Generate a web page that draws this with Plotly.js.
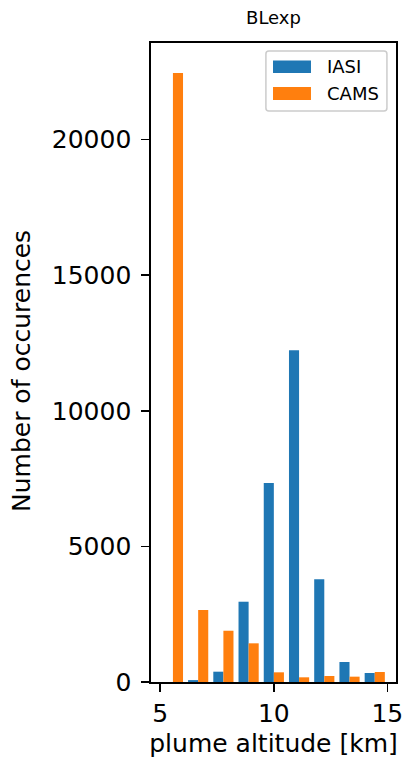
<!DOCTYPE html>
<html>
<head>
<meta charset="utf-8">
<script src="https://cdn.plot.ly/plotly-3.0.1.min.js"></script>
<style>html,body{margin:0;padding:0;background:#fff;}#chart{width:407px;height:762px;}</style>
</head>
<body>
<div id="chart"></div>
<script>
// Bin centres (km) of the 9 histogram bins spanning 5-15 km
var binCenters = [5.556, 6.667, 7.778, 8.889, 10.0, 11.111, 12.222, 13.333, 14.444];
var iasiCounts = [0, 70, 380, 2960, 7335, 12235, 3785, 737, 332];
var camsCounts = [22450, 2655, 1890, 1426, 357, 173, 221, 197, 368];
var seriesNames = ["IASI", "CAMS"];
var seriesColors = ["#1f77b4", "#ff7f0e"];
var yTicks = [0, 5000, 10000, 15000, 20000];
var xTicks = [5, 10, 15];

var F = "DejaVu Sans, sans-serif";

var traces = [
  {type: "bar", x: binCenters, y: iasiCounts, name: seriesNames[0],
   marker: {color: seriesColors[0], line: {width: 0}}, showlegend: false},
  {type: "bar", x: binCenters, y: camsCounts, name: seriesNames[1],
   marker: {color: seriesColors[1], line: {width: 0}}, showlegend: false}
];

// custom matplotlib-style legend (paper coordinates)
function rr(x0, y0, x1, y1, rx, ry) {
  return "M" + (x0 + rx) + "," + y1 + " L" + (x1 - rx) + "," + y1 +
    " Q" + x1 + "," + y1 + " " + x1 + "," + (y1 - ry) +
    " L" + x1 + "," + (y0 + ry) + " Q" + x1 + "," + y0 + " " + (x1 - rx) + "," + y0 +
    " L" + (x0 + rx) + "," + y0 + " Q" + x0 + "," + y0 + " " + x0 + "," + (y0 + ry) +
    " L" + x0 + "," + (y1 - ry) + " Q" + x0 + "," + y1 + " " + (x0 + rx) + "," + y1 + " Z";
}

var shapes = [
  {type: "path", xref: "paper", yref: "paper", path: rr(0.469, 0.8936, 0.963, 0.9875, 0.012, 0.0047),
   line: {color: "#cccccc", width: 1.5}, fillcolor: "rgba(255,255,255,0.8)", layer: "above"},
  {type: "rect", xref: "paper", yref: "paper", x0: 0.498, x1: 0.653, y0: 0.953, y1: 0.9726,
   line: {width: 0}, fillcolor: seriesColors[0], layer: "above"},
  {type: "rect", xref: "paper", yref: "paper", x0: 0.498, x1: 0.653, y0: 0.9108, y1: 0.9311,
   line: {width: 0}, fillcolor: seriesColors[1], layer: "above"}
];

var annotations = [
  {xref: "paper", yref: "paper", x: 0.712, y: 0.963, xanchor: "left", yanchor: "middle",
   text: seriesNames[0], showarrow: false, font: {family: F, size: 18, color: "#000"}},
  {xref: "paper", yref: "paper", x: 0.712, y: 0.921, xanchor: "left", yanchor: "middle",
   text: seriesNames[1], showarrow: false, font: {family: F, size: 18, color: "#000"}},
  {xref: "paper", yref: "paper", x: -0.5265, y: 0.4867, xanchor: "center", yanchor: "middle",
   textangle: -90, text: "Number of occurences", showarrow: false,
   font: {family: F, size: 25, color: "#000"}}
];

var layout = {
  width: 407, height: 762,
  margin: {l: 151, r: 11, t: 43, b: 80, pad: 0},
  paper_bgcolor: "#fff", plot_bgcolor: "#fff",
  font: {family: F, color: "#000"},
  barmode: "group", bargap: 0.2, bargroupgap: 0,
  title: {text: "BLexp", font: {family: F, size: 18, color: "#000"},
          x: 0.5, xref: "paper", y: 1 - 18 / 762, yref: "container", yanchor: "middle"},
  xaxis: {
    range: [4.59, 15.38], tickvals: xTicks, ticktext: xTicks.map(String),
    ticks: "outside", ticklen: 8, tickwidth: 1.7, tickcolor: "#000",
    showline: true, linecolor: "#000", linewidth: 1.7, mirror: true,
    showgrid: false, zeroline: false,
    tickfont: {family: F, size: 25, color: "#000"},
    title: {text: "plume altitude [km]", font: {family: F, size: 25, color: "#000"}, standoff: 8}
  },
  yaxis: {
    range: [0, 23560], tickvals: yTicks, ticktext: yTicks.map(String),
    ticks: "outside", ticklen: 8, tickwidth: 1.7, tickcolor: "#000",
    showline: true, linecolor: "#000", linewidth: 1.7, mirror: true,
    showgrid: false, zeroline: false, ticklabelstandoff: 5,
    tickfont: {family: F, size: 25, color: "#000"}
  },
  shapes: shapes,
  annotations: annotations
};

Plotly.newPlot("chart", traces, layout, {displayModeBar: false, staticPlot: true});
</script>
</body>
</html>
